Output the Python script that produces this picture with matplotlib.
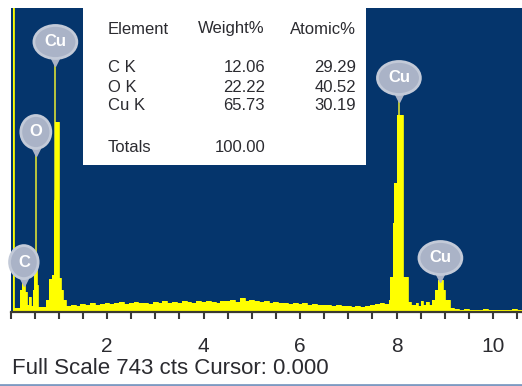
import numpy as np
import matplotlib
matplotlib.use("Agg")
import matplotlib.pyplot as plt
from matplotlib.patches import Rectangle
from matplotlib.ticker import MultipleLocator

plt.rcParams['font.family'] = ['Liberation Sans', 'DejaVu Sans']

W, H = 522, 386

# EDS spectrum, bin start energy (keV) and counts
energy_kev = [0.00, 0.045, 0.065, 0.20, 0.24, 0.30, 0.34, 0.38, 0.42, 0.47, 0.49, 0.55, 0.57,
              0.74, 0.80, 0.86, 0.90, 0.92, 1.01, 1.05, 1.09,
              1.15, 1.25, 1.35, 1.45, 1.55, 1.65, 1.75, 1.85, 1.95, 2.05, 2.15, 2.25, 2.35,
              2.45, 2.55, 2.65, 2.75, 2.85, 2.95, 3.05, 3.15, 3.25, 3.35, 3.45, 3.55, 3.65,
              3.75, 3.85, 3.95, 4.05, 4.15, 4.25, 4.35, 4.45, 4.55, 4.65, 4.75, 4.85, 4.95,
              5.05, 5.15, 5.25, 5.35, 5.45, 5.55, 5.65, 5.75, 5.85, 5.95, 6.05, 6.15, 6.25,
              6.35, 6.45, 6.55, 6.65, 6.75, 6.85, 6.95, 7.05, 7.15, 7.25, 7.35, 7.45, 7.55,
              7.65, 7.75,
              7.85, 7.87, 7.92, 7.95, 8.00, 8.13, 8.14, 8.24,
              8.30, 8.40, 8.45, 8.50, 8.55, 8.62, 8.68,
              8.74, 8.80, 8.86, 8.97, 9.00, 9.11,
              9.20, 9.30, 9.40, 9.50, 9.60, 9.70, 9.80, 9.90, 10.00, 10.10, 10.20, 10.30,
              10.40, 10.50, 10.60]
counts = [0, 800, 10, 54, 70, 49, 17, 37, 15, 54, 107, 66, 12,
          29, 80, 90, 274, 464, 83, 54, 29,
          14, 17, 15, 19, 18, 21, 17, 20, 22, 19, 21, 24, 20,
          22, 25, 21, 23, 20, 24, 22, 26, 23, 25, 22, 27, 24,
          23, 26, 24, 27, 25, 23, 28, 26, 29, 25, 33, 27, 30,
          26, 24, 27, 22, 25, 21, 23, 20, 22, 19, 21, 18, 20,
          17, 16, 18, 15, 16, 14, 15, 13, 14, 12, 15, 17, 19,
          22, 20,
          30, 85, 218, 315, 481, 218, 85, 24,
          18, 22, 15, 26, 17, 24, 16,
          29, 54, 78, 54, 29, 10,
          7, 5, 7, 4, 6, 4, 7, 5, 6, 4, 6, 5,
          7, 4, 4]

full_scale = 743
tick_values = [2, 4, 6, 8, 10]

# peak markers: element, line energy (keV), label height (counts)
marker_names = ['C', 'O', 'Cu', 'Cu', 'Cu']
marker_kev = [0.277, 0.525, 0.93, 8.05, 8.91]
marker_height = [122, 440, 660, 572, 132]

# quantification table
elements = ['C K', 'O K', 'Cu K']
weight_pct = [12.06, 22.22, 65.73]
atomic_pct = [29.29, 40.52, 30.19]
total_weight = 100.00

navy = '#05356c'
yellow = '#ffff00'
text_col = '#2b2b30'


def fx(px):
    return px / W


def fy(py):
    return 1 - py / H


fig = plt.figure(figsize=(W / 100, H / 100), dpi=100)
fig.patch.set_facecolor('white')
ax = fig.add_axes([fx(10.5), fy(312), (W - 10.5) / W, 304 / H])
ax.set_facecolor(navy)
ax.set_xlim(0, (W - 10.5) / 48.25)
ax.set_ylim(0, full_scale)

ax.fill_between(energy_kev, counts, step='post', color=yellow, lw=0, zorder=3)
ax.step(energy_kev, counts, where='post', color=yellow, lw=0.6, zorder=3)

for name, kev, h in zip(marker_names, marker_kev, marker_height):
    ax.plot([kev, kev], [0, h], color='#c9d13a', lw=1.3, zorder=2)
    ax.plot([kev], [h - 48], marker='v', ms=6, color='#aab3c7', zorder=4)
    ax.text(kev, h, name, ha='center', va='center', color='white', fontsize=12,
            fontweight='bold', zorder=5,
            bbox=dict(boxstyle='ellipse,pad=0.25', fc='#aab3c7', ec='#c3cad8', lw=2))

for side in ['top', 'right', 'left']:
    ax.spines[side].set_visible(False)
ax.spines['bottom'].set_color('#3a3a30')
ax.spines['bottom'].set_linewidth(1.6)
ax.spines['bottom'].set_zorder(6)
ax.set_yticks([])
ax.set_xticks(tick_values)
ax.set_xticklabels([str(v) for v in tick_values])
ax.xaxis.set_minor_locator(MultipleLocator(0.5))
ax.tick_params(axis='x', which='both', direction='out', length=5, width=1.5,
               color='#3a3a3a')
ax.tick_params(axis='x', which='major', pad=13, labelsize=15, labelcolor=text_col)

# results table box over the top of the spectrum
fig.add_artist(Rectangle((fx(83), fy(165)), fx(366) - fx(83), 165 / H,
                         transform=fig.transFigure, fc='white', ec='none', zorder=2))
fs = 12
fig.text(fx(108), fy(29), 'Element', fontsize=fs, color=text_col, va='center', zorder=3)
fig.text(fx(265), fy(29), 'Weight%', fontsize=fs, color=text_col, va='center', ha='right', zorder=3)
fig.text(fx(356), fy(29), 'Atomic%', fontsize=fs, color=text_col, va='center', ha='right', zorder=3)
row_y = [68, 87, 106]
for el, w, a, y in zip(elements, weight_pct, atomic_pct, row_y):
    fig.text(fx(108), fy(y), el, fontsize=fs, color=text_col, va='center', zorder=3)
    fig.text(fx(265), fy(y), f'{w:.2f}', fontsize=fs, color=text_col, va='center', ha='right', zorder=3)
    fig.text(fx(356), fy(y), f'{a:.2f}', fontsize=fs, color=text_col, va='center', ha='right', zorder=3)
fig.text(fx(108), fy(148), 'Totals', fontsize=fs, color=text_col, va='center', zorder=3)
fig.text(fx(265), fy(148), f'{total_weight:.2f}', fontsize=fs, color=text_col, va='center', ha='right', zorder=3)

fig.text(fx(12), fy(369), f'Full Scale {full_scale} cts Cursor: 0.000', fontsize=16,
         color=text_col, va='center')
fig.add_artist(plt.Line2D([0, 1], [fy(385), fy(385)], transform=fig.transFigure,
                          color='#7d9ac2', lw=2))

fig.savefig('out.png', dpi=100)
